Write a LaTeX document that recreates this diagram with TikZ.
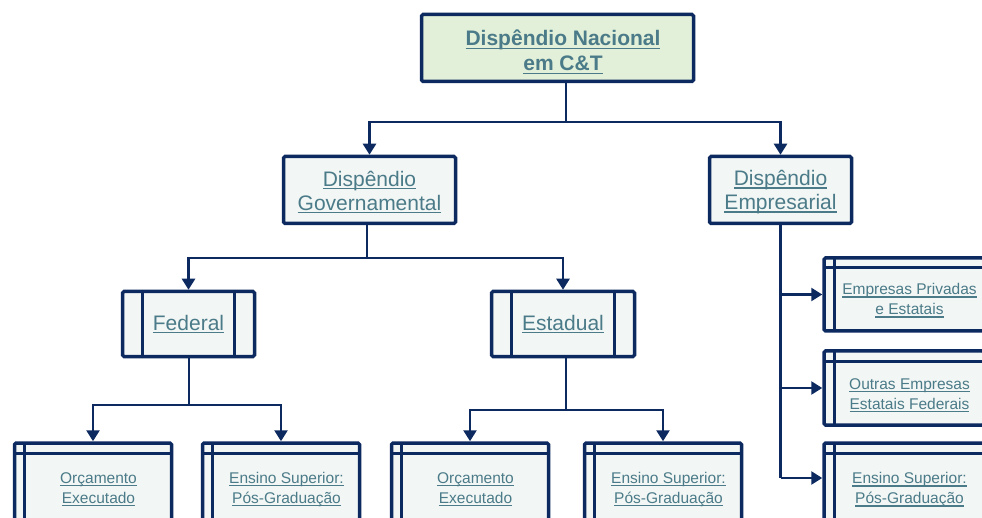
\documentclass[tikz,border=0pt]{standalone}
\usepackage{fontspec}
\setmainfont{Liberation Sans}
\usetikzlibrary{arrows.meta,positioning}

\definecolor{navy}{HTML}{0D2A60}
\definecolor{linktext}{HTML}{4B7B88}
\definecolor{boxfill}{HTML}{F2F6F5}
\definecolor{topfill}{HTML}{E2F0D9}

% underlined link text
\newcommand{\ulink}[1]{\setbox0\hbox{#1}\rlap{\rule[-3pt]{\wd0}{1.4pt}}\box0}
% line of text moved off the inner rule
\newcommand{\sline}[1]{\hspace*{11pt}\ulink{#1}}
% pushes a text block down inside its box
\newcommand{\lift}[1]{\rule{0pt}{#1}}

\tikzset{
  pbox/.style={draw=navy, line width=3.5pt, fill=boxfill, text=linktext,
    align=center, rounded corners=1.5pt},
  topbox/.style={pbox, fill=topfill, font=\fontsize{21}{25}\selectfont\bfseries,
    minimum width=272pt, minimum height=67pt},
  midbox/.style={pbox, font=\fontsize{21}{24}\selectfont, minimum height=67pt},
  procbox/.style={midbox, minimum height=65pt,
    path picture={\draw[navy, line width=3pt]
      ([xshift=20pt]path picture bounding box.north west) -- ([xshift=20pt]path picture bounding box.south west)
      ([xshift=-20pt]path picture bounding box.north east) -- ([xshift=-20pt]path picture bounding box.south east);}},
  storebox/.style={pbox, font=\fontsize{15.5}{20}\selectfont, minimum width=157pt,
    path picture={\draw[navy, line width=3pt]
      ([xshift=10pt]path picture bounding box.north west) -- ([xshift=10pt]path picture bounding box.south west)
      ([yshift=-10pt]path picture bounding box.north west) -- ([yshift=-10pt]path picture bounding box.north east);}},
  link/.style={draw=navy, line width=2.5pt},
  arrow/.style={link, -{Triangle[width=13pt,length=11pt]}}
}

\begin{document}
\begin{tikzpicture}[x=1pt, y=-1pt]
  \useasboundingbox (0,0) rectangle (982,518);
  \clip (0,0) rectangle (982,518);

  \node[topbox] (top) at (557.5,48) {\lift{24pt}\sline{Dispêndio Nacional}\\\sline{em C\&T}};
  \node[midbox, minimum width=172pt] (gov) at (369.5,190) {\lift{20pt}\ulink{Dispêndio}\\\ulink{Governamental}};
  \node[midbox, minimum width=142pt] (emp) at (780.5,190) {\lift{20pt}\ulink{Dispêndio}\\\ulink{Empresarial}};

  \node[procbox, minimum width=132pt] (fed) at (188.5,324) {\ulink{Federal}};
  \node[procbox, minimum width=143pt] (est) at (563,324) {\ulink{Estadual}};

  \node[storebox, minimum height=88pt] (orc1) at (93,487) {\lift{15.5pt}\sline{Orçamento}\\\sline{Executado}};
  \node[storebox, minimum height=88pt] (ens1) at (281,487) {\lift{15.5pt}\sline{Ensino Superior:}\\\sline{Pós-Graduação}};
  \node[storebox, minimum height=88pt] (orc2) at (470,487) {\lift{15.5pt}\sline{Orçamento}\\\sline{Executado}};
  \node[storebox, minimum height=88pt] (ens2) at (663,487) {\lift{15.5pt}\sline{Ensino Superior:}\\\sline{Pós-Graduação}};

  \node[storebox, minimum width=160pt, minimum height=73pt] (priv) at (904,294.5) {\lift{23.5pt}\sline{Empresas Privadas}\\\sline{e Estatais}};
  \node[storebox, minimum width=160pt, minimum height=74pt] (outr) at (904,388) {\lift{25.5pt}\sline{Outras Empresas}\\\sline{Estatais Federais}};
  \node[storebox, minimum width=160pt, minimum height=88pt] (ens3) at (904,487) {\lift{16.5pt}\sline{Ensino Superior:}\\\sline{Pós-Graduação}};

  % branch points
  \coordinate (j0) at (566,122);
  \coordinate (j1) at (367,258);
  \coordinate (j2) at (189,405);
  \coordinate (j3) at (566,410);
  \coordinate (j4) at ([yshift=9pt]ens3.west);

  \draw[link] (top.south -| j0) -- (j0);
  \draw[arrow] (j0) -| (gov.north);
  \draw[arrow] (j0) -| (emp.north);

  \draw[link] (gov.south -| j1) -- (j1);
  \draw[arrow] (j1) -| (fed.north);
  \draw[arrow] (j1) -| (est.north);

  \draw[link] (fed.south -| j2) -- (j2);
  \draw[arrow] (j2) -| (orc1.north);
  \draw[arrow] (j2) -| (ens1.north);

  \draw[link] (est.south -| j3) -- (j3);
  \draw[arrow] (j3) -| (orc2.north);
  \draw[arrow] (j3) -| (ens2.north);

  \draw[link] (emp.south) -- (emp.south |- j4);
  \draw[arrow] (emp.south |- priv.west) -- (priv.west);
  \draw[arrow] (emp.south |- outr.west) -- (outr.west);
  \draw[arrow] (emp.south |- j4) -- (j4);
\end{tikzpicture}
\end{document}
